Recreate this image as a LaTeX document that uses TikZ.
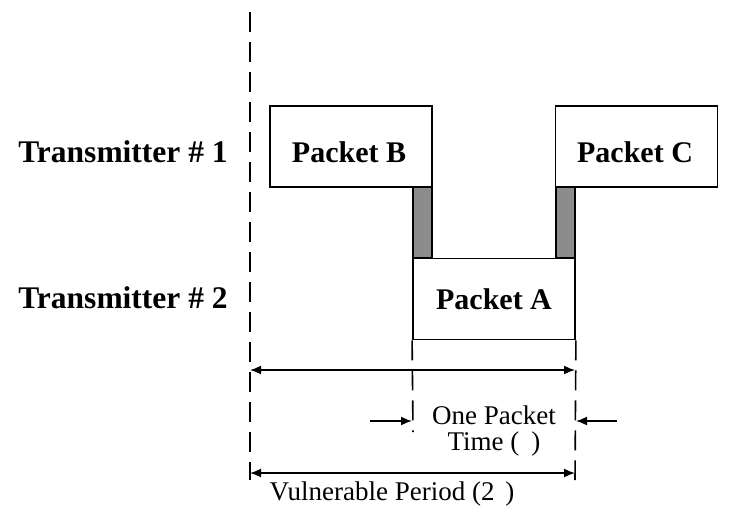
\documentclass[tikz,border=0pt]{standalone}
\usepackage{fontspec}
\setmainfont{Liberation Serif}
\usetikzlibrary{arrows.meta}
\begin{document}
\begin{tikzpicture}[x=1pt,y=-1pt,
  pkt/.style={draw=black,line width=1.8pt,fill=white,inner sep=0pt,
    minimum width=162pt,minimum height=81pt},
  pktname/.style={font=\fontsize{30}{32}\selectfont\bfseries,inner sep=0pt},
  guard/.style={draw=black,line width=1.8pt,fill=black!45,inner sep=0pt,
    minimum width=19pt,minimum height=71pt},
  txlabel/.style={font=\fontsize{31.5}{33}\selectfont\bfseries,inner sep=0pt},
  note/.style={font=\fontsize{27}{29}\selectfont,inner sep=0pt},
  guide/.style={line width=1.6pt,dash pattern=on 20pt off 10pt},
  span/.style={line width=1.6pt,{Latex[length=11pt,width=9pt]}-{Latex[length=11pt,width=9pt]}},
  push/.style={line width=1.6pt,-{Latex[length=11pt,width=9pt]}}]
\useasboundingbox (0,0) rectangle (733,509);

% transmitter labels
\node[txlabel] (tx1) at (123,152) {Transmitter \# 1};
\node[txlabel] (tx2) at (123,298) {Transmitter \# 2};

% time reference line
\coordinate (t0top) at (250,12);
\coordinate (t0bot) at (250,480);
\draw[guide] (t0top) -- (t0bot);

% guard intervals
\node[guard] (g1) at (422.5,222.5) {};
\node[guard] (g2) at (565.5,222.5) {};

% packets
\node[pkt] (pb) at (351,146.5) {};
\node[pkt] (pc) at (636.5,146.5) {};
\node[pkt] (pa) at (494,299) {};
\node[pktname] (pbt) at (349,152) {Packet B};
\node[pktname] (pct) at (635,152) {Packet C};
\node[pktname] (pat) at (494,299) {Packet A};

% dashed guides below packet A
\coordinate (aL) at (413,432);
\coordinate (aR) at (575,480);
\draw[guide] (pa.south west) -- (aL);
\draw[guide] (pa.south east) -- (aR);

% spans
\coordinate (s1L) at (250,370);
\coordinate (s1R) at (575,370);
\draw[span] (s1L) -- (s1R);
\coordinate (s2L) at (250,473);
\coordinate (s2R) at (575,473);
\draw[span] (s2L) -- (s2R);

% one packet time markers
\coordinate (pL0) at (370,421);
\coordinate (pL1) at (412,421);
\coordinate (pR0) at (617,421);
\coordinate (pR1) at (576,421);
\draw[push] (pL0) -- (pL1);
\draw[push] (pR0) -- (pR1);

\node[note] (opt1) at (494,415) {One Packet};
\node[note] (opt2) at (494,444) {Time (\hspace{0.45em})};
\node[note] (vp) at (392,494) {Vulnerable Period (2\hspace{0.4em})};
\end{tikzpicture}
\end{document}
